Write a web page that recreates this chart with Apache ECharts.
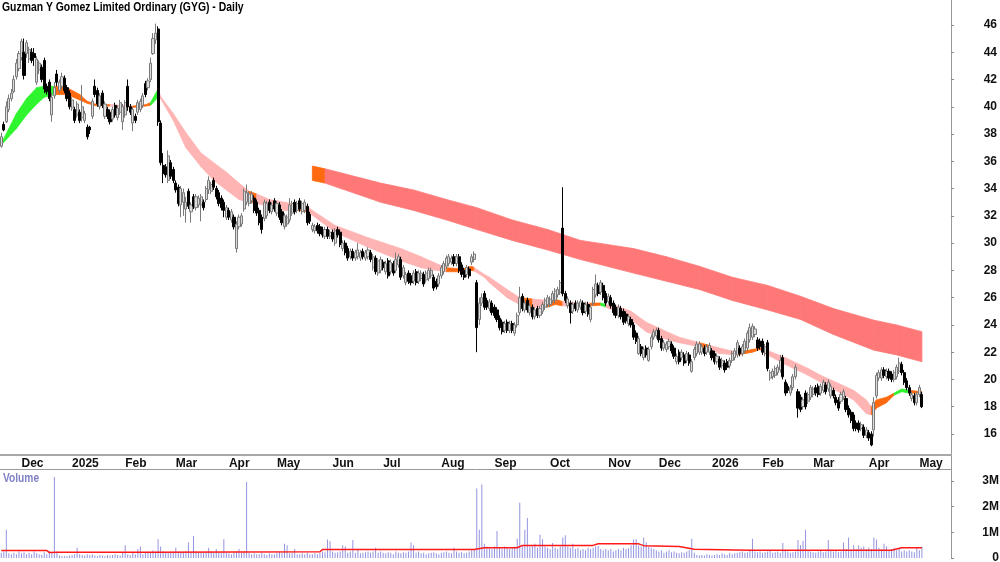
<!DOCTYPE html>
<html>
<head>
<meta charset="utf-8">
<script src="https://cdn.jsdelivr.net/npm/echarts@6/dist/echarts.min.js"></script>
<style>
html, body { margin: 0; padding: 0; background: #fff; }
#chart { width: 1000px; height: 562px; }
</style>
</head>
<body>
<div id="chart"></div>
<script>
// trading days shown on the axis (data + empty room at the right)
const dayCount = 376;

// month starts: [day index, label]
const monthTicks = [[8,'Dec'],[28,'2025'],[49,'Feb'],[69,'Mar'],[90,'Apr'],[109,'May'],[131,'Jun'],[151,'Jul'],[174,'Aug'],[195,'Sep'],[217,'Oct'],[240,'Nov'],[260,'Dec'],[281,'2026'],[301,'Feb'],[321,'Mar'],[343,'Apr'],[363,'May']];
const priceTicks = [16,18,20,22,24,26,28,30,32,34,36,38,40,42,44,46];
const volTicks = [0,1,2,3];

// daily candles [open, close, low, high]
const prices = [
[37.1,37.8,37.0,38.1],[38.7,38.3,38.2,38.9],[38.9,40.0,38.8,40.4],[39.8,40.6,39.6,40.9],[40.6,41.0,40.4,41.3],[41.1,42.0,41.0,42.3],[42.2,43.2,42.0,43.5],[42.8,43.9,42.6,44.1],[43.6,44.8,43.4,45.0],[44.0,42.3,42.0,45.0],
[43.9,44.7,43.6,44.9],[43.5,44.2,43.2,44.4],[44.0,43.4,43.2,44.3],[43.9,43.6,43.0,44.3],[41.8,43.5,41.6,43.7],[42.7,43.2,42.4,43.4],[42.9,42.0,41.8,43.1],[43.4,41.3,41.0,43.6],[41.5,41.1,40.9,41.7],[41.8,40.6,40.4,42.0],
[39.4,40.7,38.9,41.0],[40.8,41.4,40.6,41.8],[42.4,41.8,41.5,42.7],[41.2,41.8,41.0,42.0],[41.5,42.2,41.3,42.5],[42.1,41.2,41.0,42.3],[41.4,40.6,40.4,41.6],[41.0,40.0,39.8,41.2],[39.9,40.5,39.7,40.7],[39.8,39.0,38.8,40.0],
[39.4,40.2,39.2,40.4],[39.6,39.0,38.8,39.8],[39.2,40.0,38.9,41.6],[39.0,39.5,38.8,39.7],[38.5,37.8,37.6,38.7],[38.5,38.3,38.0,38.6],[39.3,40.4,39.1,40.6],[41.5,40.9,40.7,42.0],[41.2,40.2,40.0,41.4],[40.0,40.8,39.8,41.0],
[41.0,40.1,39.9,41.2],[39.3,40.2,39.1,40.4],[39.8,39.3,39.1,40.0],[39.6,38.9,38.7,39.8],[39.1,39.8,38.9,40.0],[40.1,39.4,39.2,40.3],[39.2,39.9,39.0,40.1],[39.6,40.3,39.4,40.5],[38.9,40.0,38.3,40.2],[39.4,40.3,39.2,40.5],
[41.5,40.0,39.7,42.0],[40.0,39.6,39.4,40.2],[38.8,39.8,38.2,40.0],[39.3,39.0,38.8,39.5],[39.6,40.3,39.4,40.5],[39.8,40.4,39.6,40.6],[40.1,40.8,39.9,41.0],[41.7,40.9,40.7,41.9],[41.4,41.9,41.2,42.1],[42.0,43.2,41.8,43.6],
[43.9,45.0,43.8,45.4],[44.9,45.4,44.6,46.1],[45.7,38.9,38.6,45.9],[38.8,35.9,35.7,39.0],[35.7,35.1,34.4,36.6],[35.6,35.0,34.8,35.8],[34.6,36.4,34.4,36.8],[35.9,34.9,34.7,36.1],[35.4,34.6,34.4,35.6],[34.4,33.9,33.7,34.6],
[34.1,32.9,32.7,34.3],[32.8,34.0,31.9,34.2],[33.0,33.7,32.0,34.0],[32.5,33.0,31.5,33.4],[33.8,32.7,32.5,34.0],[32.3,32.8,31.5,33.0],[33.4,32.7,32.5,33.6],[32.6,33.4,32.4,33.6],[32.8,33.3,32.6,33.5],[32.8,33.4,31.6,33.6],
[33.0,32.6,32.4,33.2],[33.2,34.0,33.0,34.2],[33.9,34.6,33.6,34.9],[33.8,34.3,33.6,34.5],[34.6,34.1,33.9,34.8],[34.0,33.4,33.2,34.2],[33.7,32.9,32.7,33.9],[33.3,32.6,32.4,33.5],[33.0,32.4,31.9,33.2],[31.9,32.6,31.7,32.8],
[32.4,31.9,31.7,32.6],[31.7,32.3,31.5,32.5],[31.9,31.2,31.0,32.1],[29.6,31.4,29.3,31.6],[31.2,31.9,31.0,32.1],[31.4,32.0,31.2,32.2],[32.5,33.8,32.3,34.0],[33.0,33.7,32.8,34.3],[32.9,33.6,32.7,33.8],[33.1,33.6,32.9,33.8],
[33.3,32.4,32.2,33.5],[33.0,32.2,32.0,33.2],[32.4,31.5,31.3,32.6],[31.9,31.0,30.7,32.1],[31.8,33.0,31.6,33.2],[32.0,32.9,31.8,33.1],[33.0,32.4,32.2,33.2],[32.3,32.8,32.1,33.0],[33.1,32.5,32.3,33.3],[32.2,32.9,32.0,33.1],
[32.8,31.9,31.7,33.0],[32.3,31.5,31.3,32.5],[31.2,32.0,31.0,32.2],[31.4,31.9,31.2,32.1],[31.7,32.8,31.5,33.3],[32.2,32.9,32.0,33.1],[33.0,32.3,32.1,33.2],[32.4,32.9,32.2,33.1],[33.1,32.5,32.3,33.3],[32.3,32.9,32.1,33.1],
[32.4,33.0,32.2,33.2],[32.7,31.5,31.3,32.9],[32.1,31.6,31.4,32.3],[31.0,31.3,30.8,31.5],[30.9,31.2,30.7,31.4],[31.3,30.9,30.7,31.5],[31.2,30.7,30.5,31.4],[31.0,30.6,30.4,31.2],[30.5,31.0,30.3,31.2],[31.0,30.5,30.3,31.2],
[30.5,30.8,30.3,31.0],[30.8,30.3,30.1,31.0],[30.0,30.9,29.8,31.1],[31.0,30.6,30.4,31.2],[30.8,29.9,29.7,31.0],[29.6,30.0,29.4,30.2],[30.0,29.3,29.1,30.2],[29.6,28.9,28.7,29.8],[29.0,29.4,28.8,29.6],[29.4,28.9,28.7,29.6],
[28.9,29.3,28.7,29.5],[29.0,29.5,28.8,30.0],[28.9,29.3,28.7,29.5],[29.4,29.0,28.8,29.6],[28.9,29.3,28.7,29.5],[29.0,29.5,28.8,29.7],[29.3,28.8,28.6,29.5],[28.2,29.0,28.0,29.2],[28.9,27.9,27.7,29.1],[27.8,28.7,27.6,28.9],
[28.0,28.8,27.8,29.0],[28.6,28.2,28.0,28.8],[27.9,28.5,27.7,28.7],[28.7,27.6,27.4,28.9],[27.9,28.6,27.7,28.8],[28.5,27.8,27.6,28.7],[28.0,28.8,27.8,29.3],[28.4,29.0,28.2,29.2],[28.8,27.5,27.3,29.0],[27.6,28.2,27.4,28.4],
[27.1,27.7,26.9,27.9],[27.8,27.2,27.0,28.0],[27.6,27.1,26.9,27.8],[27.2,27.8,27.0,28.0],[27.9,27.1,26.9,28.1],[27.2,27.8,27.0,28.0],[27.4,27.8,27.2,28.0],[27.7,27.0,26.8,27.9],[27.3,27.8,27.1,28.0],[27.4,28.0,27.2,28.2],
[27.6,28.0,27.4,28.2],[27.5,26.7,26.5,27.7],[27.2,26.8,26.6,27.4],[27.0,27.6,26.8,27.8],[27.6,28.2,27.4,28.4],[27.9,28.5,27.7,28.7],[28.3,28.9,28.1,29.1],[28.5,29.0,28.3,29.2],[28.6,28.9,28.4,29.1],[29.0,28.5,28.3,29.2],
[28.5,29.0,28.3,29.2],[29.0,28.0,27.8,29.2],[28.4,27.7,27.5,28.6],[28.0,27.5,27.3,28.2],[27.7,28.2,27.5,28.4],[28.1,27.6,27.4,28.3],[28.6,29.0,28.4,29.2],[28.8,29.2,28.6,29.4],[27.1,23.8,22.0,27.3],[24.4,25.6,24.0,26.0],
[25.6,26.0,25.4,26.3],[26.3,25.3,25.1,26.5],[25.8,25.3,25.1,26.0],[25.2,25.7,25.0,25.9],[25.6,24.9,24.7,25.8],[25.3,24.7,24.5,25.5],[25.1,24.4,24.2,25.3],[24.5,23.8,23.6,24.7],[24.2,23.5,23.3,24.4],[23.6,24.1,23.4,24.3],
[24.2,23.6,23.4,24.4],[23.6,24.1,23.4,24.3],[24.1,23.6,23.4,24.3],[23.4,24.0,23.2,24.2],[24.0,24.7,23.8,24.9],[24.9,26.0,24.7,26.8],[26.1,25.2,25.0,26.3],[25.1,25.6,24.9,25.8],[25.8,25.1,24.9,26.0],[24.9,25.4,24.7,25.6],
[25.3,24.6,24.4,25.5],[24.6,25.1,24.4,25.3],[25.2,24.7,24.5,25.4],[24.7,25.2,24.5,25.4],[25.0,25.5,24.8,25.7],[25.3,25.8,25.1,26.0],[25.5,26.0,25.3,26.2],[25.5,25.9,25.3,26.1],[25.8,26.3,25.6,26.5],[25.8,26.5,25.6,26.7],
[26.2,26.6,26.0,26.8],[26.4,27.1,26.2,27.3],[31.1,26.3,26.1,34.1],[26.3,25.8,25.6,26.5],[25.4,25.9,25.2,26.1],[25.6,24.9,24.1,25.8],[25.0,25.5,24.8,25.7],[25.6,25.2,25.0,25.8],[25.1,25.6,24.9,25.8],[25.3,25.7,25.1,25.9],
[25.6,24.9,24.7,25.8],[25.0,25.5,24.8,25.7],[25.5,24.8,24.6,25.7],[24.4,25.3,24.2,25.5],[25.6,26.6,25.4,26.8],[26.2,27.0,26.0,27.7],[26.9,26.3,26.1,27.1],[26.4,27.1,26.2,27.3],[26.9,26.0,25.8,27.1],[26.3,25.6,25.4,26.5],
[25.7,26.1,25.5,26.3],[26.0,25.4,25.2,26.2],[25.6,24.9,24.7,25.8],[25.3,24.7,24.5,25.5],[24.7,25.3,24.5,25.5],[25.2,24.6,24.4,25.4],[25.0,24.2,24.0,25.2],[24.8,24.3,24.1,25.0],[24.1,24.6,23.9,24.8],[24.4,24.0,23.8,24.6],
[24.0,23.1,22.9,24.2],[23.4,22.8,22.6,23.6],[21.9,23.0,21.8,23.2],[22.4,21.9,21.7,22.6],[21.6,22.2,21.4,22.4],[22.3,21.8,21.6,22.5],[21.4,22.2,21.3,22.4],[22.4,23.1,22.2,23.3],[23.1,23.5,22.9,23.7],[23.2,23.6,23.0,23.8],
[23.6,22.9,22.7,23.8],[23.0,22.3,22.1,23.2],[22.3,22.7,22.1,22.9],[22.2,22.6,22.0,22.8],[22.4,22.8,22.2,23.0],[22.6,22.1,21.9,22.8],[22.3,21.7,21.5,22.5],[21.3,21.7,21.1,21.9],[22.0,21.3,21.1,22.2],[21.6,22.0,21.4,22.2],
[21.8,21.2,21.0,22.0],[21.4,21.9,21.2,22.1],[21.8,21.2,21.0,22.0],[20.6,21.3,20.5,21.5],[21.6,22.2,21.4,22.4],[21.9,22.6,21.7,22.8],[22.0,22.6,21.8,22.8],[22.0,22.4,21.8,22.6],[22.3,21.9,21.7,22.5],[22.0,22.4,21.8,22.6],
[22.0,22.5,21.8,22.7],[22.1,21.6,21.4,22.3],[21.9,21.3,21.1,22.1],[21.3,21.7,21.1,21.9],[21.5,20.9,20.7,21.7],[21.0,21.4,20.8,21.6],[21.2,20.7,20.5,21.4],[21.3,20.9,20.7,21.5],[21.0,21.4,20.8,21.6],[21.4,21.9,21.2,22.1],
[21.6,22.1,21.4,22.3],[21.8,22.7,21.6,22.9],[22.3,21.9,21.7,22.5],[21.9,22.4,21.7,22.6],[22.1,22.8,21.9,23.0],[22.3,23.4,22.1,23.6],[22.9,23.8,22.7,24.1],[23.1,23.9,22.9,24.1],[23.3,23.7,23.1,23.9],[22.9,22.3,22.1,23.1],
[22.8,22.4,22.2,23.0],[22.8,22.0,21.8,23.0],[21.9,22.4,21.7,22.6],[22.7,20.8,20.6,22.9],[20.1,20.5,19.9,20.7],[20.2,20.6,20.0,20.8],[20.3,20.8,20.1,21.0],[20.5,20.9,20.3,21.1],[20.7,21.4,20.5,21.8],[21.6,20.2,20.0,21.8],
[19.8,19.0,18.8,20.0],[19.5,19.2,19.0,19.7],[19.0,19.4,18.8,19.6],[19.4,20.2,19.2,20.4],[20.2,20.9,20.0,21.1],[19.1,17.9,17.2,19.3],[18.7,17.8,17.6,18.9],[18.0,18.5,17.8,18.7],[19.0,18.0,17.8,19.2],[18.4,18.9,18.2,19.1],
[18.7,19.4,18.5,19.6],[18.9,19.3,18.7,19.5],[19.4,19.0,18.8,19.6],[19.5,18.9,18.7,19.7],[19.0,19.5,18.8,19.7],[19.2,19.8,19.0,20.0],[19.6,19.1,18.9,19.8],[19.3,19.8,19.1,20.0],[18.8,19.5,18.6,19.7],[19.2,18.8,18.6,19.4],
[18.7,18.3,18.1,18.9],[18.5,17.9,17.7,18.7],[18.4,18.9,18.2,19.1],[18.7,19.1,18.5,19.3],[18.6,17.8,17.6,18.8],[17.9,17.4,17.2,18.1],[17.6,17.0,16.8,17.8],[17.4,16.4,16.2,17.6],[16.8,16.4,16.2,17.0],[16.8,16.3,16.1,17.0],
[16.4,16.7,16.2,16.9],[16.5,15.9,15.7,16.7],[15.9,16.3,15.7,16.5],[16.1,15.7,15.5,16.3],[16.0,15.2,15.1,16.2],[16.3,18.3,15.8,18.7],[18.8,20.3,18.6,20.5],[20.1,20.5,19.9,20.7],[20.1,20.7,19.9,20.9],[20.7,20.3,20.1,20.9],
[20.2,20.6,20.0,20.8],[20.6,20.1,19.9,20.8],[20.4,20.0,19.8,20.6],[20.0,20.5,19.8,20.7],[20.2,20.9,20.0,21.1],[20.6,21.2,20.4,21.6],[21.1,20.5,20.3,21.3],[20.5,19.8,19.6,20.7],[19.9,19.4,19.2,20.1],[19.4,19.0,18.8,19.6],
[18.6,18.9,18.4,19.1],[18.8,18.3,18.1,19.0],[18.3,18.9,18.1,19.1],[18.9,19.4,18.7,19.6],[18.9,18.0,17.9,19.1]
];

// daily volume, millions of shares
const volumes = [
0.2,0.25,1.1,0.18,0.15,0.2,0.15,0.25,0.18,0.22,
0.15,0.2,0.15,0.25,0.18,0.15,0.12,0.22,0.15,0.28,
0.2,3.15,0.25,0.1,0.08,0.07,0.08,0.1,0.12,0.15,
0.4,0.15,0.12,0.1,0.15,0.12,0.15,0.1,0.08,0.12,
0.1,0.08,0.12,0.1,0.12,0.15,0.12,0.1,0.2,0.5,
0.15,0.12,0.2,0.15,0.35,0.45,0.15,0.2,0.25,0.22,
0.3,0.25,0.73,0.45,0.25,0.22,0.2,0.25,0.2,0.4,
0.25,0.2,0.22,0.25,0.6,0.2,0.85,0.25,0.2,0.22,
0.2,0.25,0.4,0.25,0.2,0.35,0.22,0.18,0.73,0.2,
0.18,0.15,0.2,0.25,0.35,0.2,0.25,2.95,0.2,0.15,
0.18,0.15,0.15,0.2,0.15,0.12,0.18,0.15,0.15,0.2,
0.25,0.2,0.55,0.5,0.18,0.2,0.35,0.15,0.15,0.18,
0.15,0.2,0.15,0.15,0.18,0.15,0.2,0.25,0.22,0.72,
0.65,0.25,0.2,0.22,0.25,0.5,0.45,0.2,0.25,0.7,
0.2,0.35,0.18,0.2,0.22,0.25,0.2,0.25,0.4,0.2,
0.25,0.2,0.18,0.22,0.2,0.15,0.25,0.2,0.18,0.22,
0.2,0.25,0.6,0.5,0.2,0.25,0.18,0.2,0.15,0.18,
0.2,0.22,0.18,0.15,0.2,0.22,0.25,0.2,0.18,0.4,
0.25,0.2,0.22,0.18,0.2,0.25,0.3,0.35,2.7,1.1,
2.85,0.55,0.45,0.4,0.35,0.45,1.05,0.4,0.35,0.45,
0.4,0.35,0.4,0.45,0.75,2.15,0.5,1.1,1.55,0.45,
0.5,0.55,0.4,0.9,0.73,0.45,0.4,0.35,0.58,0.4,
0.35,0.45,0.8,0.88,0.45,0.4,0.55,0.35,0.4,0.3,
0.35,0.3,0.4,0.35,0.4,0.45,0.47,0.35,0.3,0.35,
0.3,0.35,0.25,0.3,0.35,0.3,0.4,0.35,0.38,0.5,
0.72,0.73,0.5,0.45,0.8,0.6,0.45,0.4,0.35,0.3,
0.25,0.3,0.2,0.25,0.3,0.22,0.25,0.2,0.18,0.22,
0.2,0.25,0.3,0.75,0.2,0.12,0.1,0.12,0.1,0.15,
0.12,0.1,0.12,0.15,0.12,0.18,0.15,0.12,0.2,0.15,
0.18,0.2,0.22,0.25,0.2,0.22,0.3,0.75,0.25,0.22,
0.25,0.2,0.22,0.25,0.3,0.2,0.22,0.25,0.2,0.58,
0.3,0.25,0.2,0.22,0.25,0.7,0.5,0.66,1.1,0.3,
0.25,0.22,0.2,0.25,0.3,0.22,0.25,0.7,0.3,0.25,
0.3,0.22,0.25,0.6,0.35,0.8,0.3,0.5,0.35,0.5,
0.4,0.45,0.35,0.4,0.35,0.8,0.72,0.4,0.35,0.55,
0.45,0.3,0.35,0.4,0.3,0.35,0.25,0.3,0.25,0.3,
0.25,0.22,0.4,0.3,0.45
];

// volume average line [day index, millions]
const volumeAvg = [[0,0.29],[18,0.29],[19,0.21],[22,0.22],[60,0.22],[126,0.24],[127,0.33],[187,0.33],[191,0.4],[204,0.4],[206,0.49],[234,0.49],[236,0.55],[252,0.55],[254,0.48],[268,0.45],[274,0.34],[296,0.3],[352,0.3],[356,0.4],[364,0.4]];

// trend bands [day index, lower, upper, tone]; tone colours the stretch up to the next row
const bandTones = ['#2ef52e', '#ff6a10', '#ffb4b4', '#ff7878'];
const shortBand = [
[0,37.2,37.3,0],[6,38.4,39.5,0],[10,39.4,40.6,0],[14,40.2,41.4,0],[17,40.7,41.5,0],[21,40.9,41.5,1],[26,40.9,41.4,1],[31,40.5,40.9,1],[34,40.25,40.4,1],[37,40.1,40.2,1],
[43,40.05,40.15,2],[52,39.95,40.05,1],[57,40.05,40.15,1],[59,40.1,40.3,0],[62,40.7,41.3,2],[63,40.6,40.75,2],[68,39.0,39.5,2],[73,37.0,38.1,2],[79,35.6,36.6,2],[84,34.6,35.9,2],
[89,33.9,35.2,2],[94,33.2,34.4,2],[98,33.0,33.8,1],[101,32.9,33.6,2],[106,32.7,33.2,2],[112,32.4,33.0,2],[117,32.4,32.8,1],[121,32.3,32.7,2],[123,32.05,32.4,2],[132,30.8,31.3,2],
[145,29.7,30.4,2],[158,28.7,29.6,2],[166,28.2,29.0,2],[172,28.0,28.5,2],[176,27.9,28.2,1],[182,27.9,28.1,1],[186,28.0,28.3,1],[187,27.95,28.2,2],[191,27.5,27.7,2],[193,27.1,27.5,2],
[200,26.0,26.6,2],[205,25.5,26.0,1],[210,25.3,25.9,2],[216,25.3,25.8,1],[219,25.5,25.9,1],[222,25.4,25.7,2],[228,25.4,25.6,2],[233,25.4,25.6,1],[237,25.45,25.6,0],[239,25.3,25.5,2],
[243,25.0,25.4,2],[249,24.4,25.0,2],[255,23.5,24.2,2],[262,23.0,23.6,2],[268,22.7,23.1,2],[276,22.4,22.7,1],[280,22.2,22.5,2],[284,21.9,22.3,2],[291,21.8,22.0,1],[297,22.0,22.2,1],
[300,22.2,22.3,1],[302,21.9,22.2,2],[310,21.1,21.6,2],[319,20.3,20.8,2],[324,19.8,20.3,2],[330,19.2,19.8,2],[337,18.5,19.2,2],[342,17.5,18.5,2],[344,17.4,18.0,1],[346,17.9,18.5,1],
[350,18.3,18.7,1],[353,18.85,19.0,0],[356,19.1,19.3,0],[359,19.0,19.2,1],[364,19.0,19.1,1]
];
const longBand = [
[123,34.6,35.65,1],[128,34.4,35.45,3],[150,33.0,34.4,3],[163,32.4,33.9,3],[176,31.7,33.2,3],[188,31.0,32.6,3],[202,30.2,31.7,3],[216,29.5,31.0,3],[229,28.8,30.2,3],[250,27.8,29.6,3],
[263,27.2,29.0,3],[276,26.6,28.3,3],[289,25.8,27.5,3],[303,25.1,26.9,3],[316,24.4,26.1,3],[329,23.3,25.2,3],[345,22.15,24.35,3],[354,21.8,24.0,3],[364,21.3,23.5,3]
];

const fontMain = "'Liberation Sans', Arial, sans-serif";
const categories = Array.from({ length: dayCount }, (_, i) => String(i));
const tickLabel = {};
monthTicks.forEach(t => { tickLabel[t[0]] = t[1]; });

function bandSeries(rows) {
    return {
        type: 'custom',
        xAxisIndex: 0,
        yAxisIndex: 0,
        z: 1,
        silent: true,
        data: rows,
        encode: { x: 0, y: [1, 2] },
        renderItem: function (params, api) {
            const k = params.dataIndex;
            if (k >= rows.length - 1) return null;
            const a = rows[k], b = rows[k + 1];
            const pts = [
                api.coord([a[0], a[2]]), api.coord([b[0], b[2]]),
                api.coord([b[0], b[1]]), api.coord([a[0], a[1]])
            ];
            const c = bandTones[a[3]];
            return { type: 'polygon', shape: { points: pts }, style: { fill: c, stroke: c, lineWidth: 0.8 } };
        }
    };
}

const myChart = echarts.init(document.getElementById('chart'));
const option = {
    animation: false,
    backgroundColor: '#fff',
    // narrow bold captions, as in the original
    graphic: [
        { type: 'text', left: 2, top: 1, scaleX: 0.8, silent: true,
          style: { text: 'Guzman Y Gomez Limited Ordinary (GYG) - Daily', fontSize: 13, fontWeight: 'bold', fontFamily: fontMain, fill: '#000' } },
        { type: 'text', left: 3, top: 473, scaleX: 0.85, silent: true,
          style: { text: 'Volume', fontSize: 12, fontWeight: 'bold', fontFamily: fontMain, fill: '#8181c6' } }
    ],
    grid: [
        { left: 0, right: 49, top: 0, height: 455, outerBoundsMode: 'none' },
        { left: 0, right: 49, top: 455, bottom: 4, outerBoundsMode: 'none' }
    ],
    xAxis: [
        {
            type: 'category', gridIndex: 0, data: categories, boundaryGap: true,
            axisLine: { lineStyle: { color: '#a8a8a8', width: 2 } },
            axisTick: { interval: (i) => tickLabel[i] !== undefined, length: 3, lineStyle: { color: '#888' } },
            axisLabel: {
                interval: (i) => tickLabel[i] !== undefined,
                formatter: (v, i) => tickLabel[i] || '',
                align: 'left', margin: 3,
                fontSize: 12, fontWeight: 'bold', color: '#111', fontFamily: fontMain
            },
            splitLine: { show: false }
        },
        {
            type: 'category', gridIndex: 1, data: categories, boundaryGap: true,
            axisLine: { show: false }, axisTick: { show: false }, axisLabel: { show: false }
        },
        {
            type: 'category', gridIndex: 1, data: categories, boundaryGap: true,
            position: 'top', offset: -14,
            axisLine: { onZero: false, lineStyle: { color: '#999', width: 1 } },
            axisTick: { show: false }, axisLabel: { show: false }
        }
    ],
    yAxis: [
        {
            type: 'value', gridIndex: 0, position: 'right', min: 14.46, max: 47.83, scale: true,
            axisLine: { show: true, lineStyle: { color: '#999' } },
            axisTick: { show: true, customValues: priceTicks, length: 3, lineStyle: { color: '#888' } },
            axisLabel: {
                customValues: priceTicks, align: 'right', margin: 46,
                fontSize: 12, fontWeight: 'bold', color: '#111', fontFamily: fontMain
            },
            splitLine: { show: false }
        },
        {
            type: 'value', gridIndex: 1, position: 'right', min: 0, max: 4,
            axisLine: { show: true, lineStyle: { color: '#999' } },
            axisTick: { show: true, customValues: volTicks, length: 3, lineStyle: { color: '#888' } },
            axisLabel: {
                customValues: volTicks, align: 'right', margin: 48,
                formatter: (v) => v === 0 ? '0' : v + 'M',
                fontSize: 12, fontWeight: 'bold', color: '#111', fontFamily: fontMain
            },
            splitLine: { show: false }
        }
    ],
    series: [
        bandSeries(longBand),
        bandSeries(shortBand),
        {
            type: 'candlestick',
            xAxisIndex: 0, yAxisIndex: 0, z: 3,
            data: prices,
            barWidth: 2.6,
            itemStyle: {
                color: '#dcdcdc', color0: '#000',
                borderColor: '#7a7a7a', borderColor0: '#000', borderWidth: 1
            }
        },
        {
            type: 'bar',
            xAxisIndex: 1, yAxisIndex: 1,
            data: volumes,
            barWidth: 1,
            itemStyle: { color: '#9494e0' }
        },
        {
            type: 'line',
            xAxisIndex: 1, yAxisIndex: 1, z: 4,
            data: volumeAvg,
            showSymbol: false,
            lineStyle: { color: '#ff1a1a', width: 1.5 }
        }
    ]
};
myChart.setOption(option);
</script>
</body>
</html>
